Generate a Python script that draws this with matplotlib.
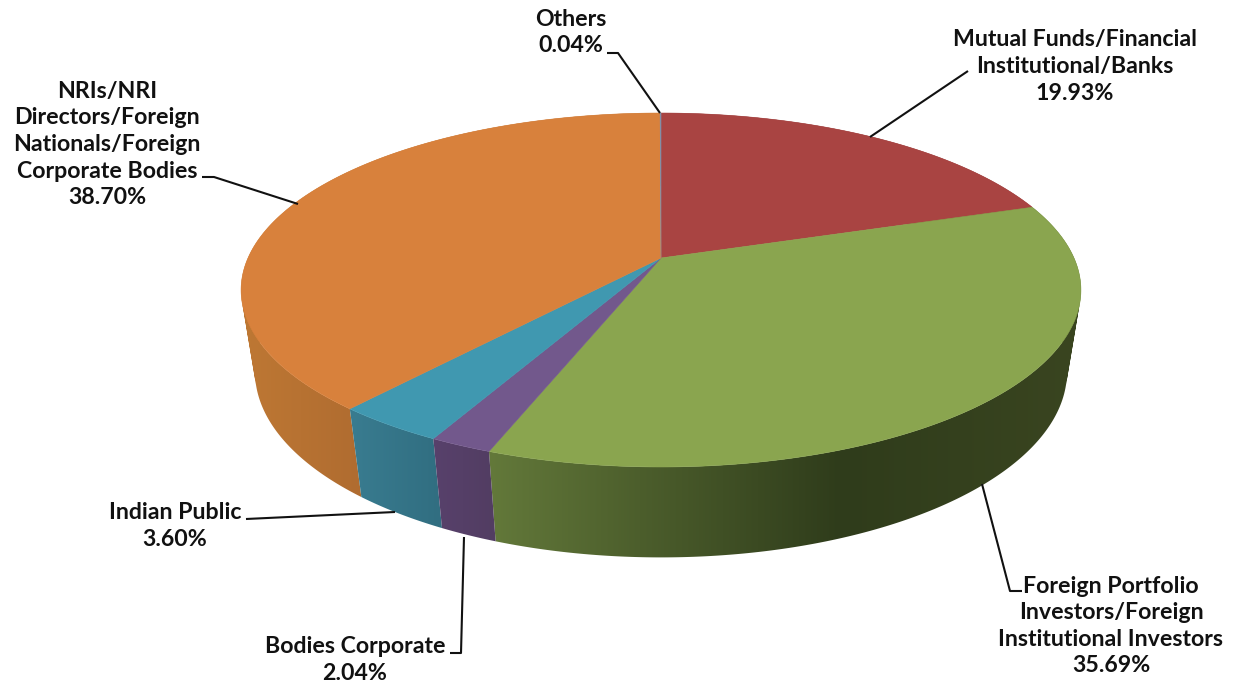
import numpy as np
import matplotlib
matplotlib.use("Agg")
import matplotlib.pyplot as plt
from matplotlib.colors import to_rgb
from matplotlib.patches import PathPatch
from matplotlib.path import Path

categories = ["Mutual Funds/Financial\nInstitutional/Banks",
              "Foreign Portfolio\nInvestors/Foreign\nInstitutional Investors",
              "Bodies Corporate",
              "Indian Public",
              "NRIs/NRI\nDirectors/Foreign\nNationals/Foreign\nCorporate Bodies",
              "Others"]
shares = [19.93, 35.69, 2.04, 3.60, 38.70, 0.04]

top_colors = ["#A94442", "#8AA54F", "#72588C", "#4098B0", "#D8813C", "#8090AC"]
# wall colour stops: (pixel x, colour)
wall_stops = [
    [(600, "#7A3030"), (1100, "#7A3030")],
    [(489, "#63793A"), (640, "#4C5E2C"), (840, "#2F3C1B"), (1081, "#3A4520")],
    [(430, "#58416C"), (495, "#523D62")],
    [(350, "#397C90"), (440, "#316E81")],
    [(241, "#BE7834"), (360, "#B06C30")],
    [(600, "#606C80"), (700, "#606C80")],
]

plt.rcParams["font.family"] = ["Lato", "DejaVu Sans"]
fig = plt.figure(figsize=(12.34, 6.85), dpi=100)
ax = fig.add_axes([0, 0, 1, 1])

CX, CY = 661.0, 258.0
A, B, K = 413.0, 171.2, 0.1808
M, D = 0.0332, 84.0


def project(theta, drop=False):
    """Perspective view of the unit circle; theta runs clockwise from 12 o'clock."""
    x, y = np.sin(theta), np.cos(theta)
    w = 1 + K * y + (M if drop else 0)
    off = D if drop else 0
    return CX + A * x / w, CY - (B * y - off) / w


def wall_path(t):
    """Union of consistently wound quads between the upper and lower rim."""
    xt, yt = project(t)
    xb, yb = project(t, drop=True)
    verts, codes = [], []
    for j in range(len(t) - 1):
        q = np.array([[xt[j], yt[j]], [xt[j + 1], yt[j + 1]],
                      [xb[j + 1], yb[j + 1]], [xb[j], yb[j]]])
        area = np.sum(q[:, 0] * np.roll(q[:, 1], -1) - np.roll(q[:, 0], -1) * q[:, 1])
        if area < 0:
            q = q[::-1]
        verts += list(q) + [q[0]]
        codes += [Path.MOVETO, Path.LINETO, Path.LINETO, Path.LINETO, Path.CLOSEPOLY]
    return Path(np.array(verts), codes)


edges = np.concatenate([[0], np.cumsum(shares)]) / np.sum(shares) * 2 * np.pi
pixel_x = np.arange(0, 1234)

# side wall: one gradient image per slice, clipped to the slice's wall outline
wall_order = [0, 5, 4, 1, 3, 2]
for i in wall_order:
    t = np.linspace(edges[i], edges[i + 1], 300)
    stops = wall_stops[i]
    xs = [s[0] for s in stops]
    cs = np.array([to_rgb(s[1]) for s in stops])
    grad = np.stack([np.interp(pixel_x, xs, cs[:, c]) for c in range(3)], axis=-1)[None, :, :]
    im = ax.imshow(grad, extent=(0, 1234, 685, 0), aspect="auto", zorder=2,
                   interpolation="bilinear")
    clip = PathPatch(wall_path(t), transform=ax.transData, fc="none", ec="none")
    ax.add_patch(clip)
    im.set_clip_path(clip)

# top surface
for i in range(len(shares)):
    t = np.linspace(edges[i], edges[i + 1], 300)
    xs, ys = project(t)
    ax.fill(np.r_[CX, xs], np.r_[CY, ys], color=top_colors[i], lw=0.4, zorder=3)

ax.set_xlim(0, 1234)
ax.set_ylim(685, 0)
ax.axis("off")

ink = "#111111"
labels = [
    (1075, 66.5, 0, [(968, 71), (870, 137)]),
    (1111, 626, 1, [(1022, 591), (1010, 591), (982, 484)]),
    (355, 660, 2, [(450, 653), (461, 653), (464, 537)]),
    (175, 526, 3, [(246, 519), (395, 512)]),
    (107, 144.5, 4, [(202, 177), (214, 177), (298, 204)]),
    (571, 32.5, 5, [(607, 53), (618, 53), (660, 113)]),
]
for lx, ly, i, path in labels:
    px, py = zip(*path)
    ax.plot(px, py, color=ink, lw=1.5, zorder=4, solid_capstyle="butt")
    ax.text(lx, ly, f"{categories[i]}\n{shares[i]:.2f}%", ha="center", va="center",
            fontsize=16.7, fontweight="bold", color=ink, linespacing=1.33, zorder=5)

fig.savefig("out.png", dpi=100)
